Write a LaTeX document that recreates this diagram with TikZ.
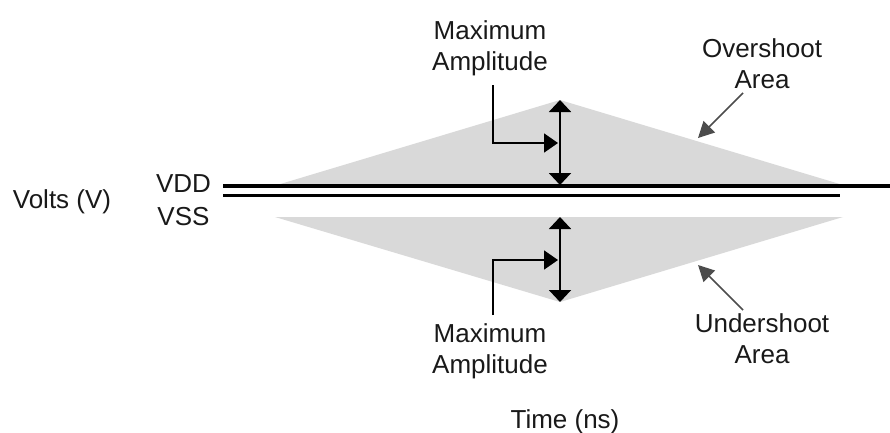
\documentclass[tikz,border=0pt]{standalone}
\usepackage{fontspec}
\setmainfont{Liberation Sans}
\usepackage{tikz}
\usetikzlibrary{arrows.meta}

\tikzset{
  lbl/.style={font=\fontsize{26}{31}\selectfont, text=black!90, inner sep=0pt, align=center},
  rail/.style={line width=3.2pt},
  area/.style={fill=gray!30},
  amp/.style={line width=2pt, {Triangle[width=22pt,length=12pt]}-{Triangle[width=22pt,length=12pt]}},
  lead/.style={line width=1.8pt, -{Triangle[width=19pt,length=14pt]}},
  pointer/.style={line width=1.6pt, draw=black!70, -{Triangle[width=16pt,length=16pt]}}
}

\begin{document}
\begin{tikzpicture}[x=1pt,y=-1pt]
  \useasboundingbox (0,0) rectangle (890,432);

  % overshoot and undershoot areas
  \coordinate (ovL) at (277,185);
  \coordinate (ovT) at (560,100);
  \coordinate (ovR) at (843,185);
  \coordinate (unL) at (275,217);
  \coordinate (unR) at (843,217);
  \coordinate (unB) at (560,302);
  \fill[area] (ovL) -- (ovT) -- (ovR) -- cycle;
  \fill[area] (unL) -- (unR) -- (unB) -- cycle;

  % VDD / VSS rails
  \coordinate (vddA) at (223,186);
  \coordinate (vddB) at (890,186);
  \coordinate (vssA) at (223,195.5);
  \coordinate (vssB) at (840,195.5);
  \draw[rail] (vddA) -- (vddB);
  \draw[rail] (vssA) -- (vssB);

  % amplitudes
  \coordinate (ovBase) at (560,185);
  \coordinate (unTop) at (560,217);
  \draw[amp] (ovT) -- (ovBase);
  \draw[amp] (unTop) -- (unB);

  \node[lbl] (maxTop) at (490,48) {Maximum\\Amplitude};
  \node[lbl] (maxBot) at (490,351.5) {Maximum\\Amplitude};
  \node[lbl] (ovLbl) at (762,64) {Overshoot\\Area};
  \node[lbl] (unLbl) at (762,339) {Undershoot\\Area};
  \node[lbl, anchor=base] (volts) at (62,208) {Volts (V)};
  \node[lbl, anchor=base] (vdd) at (183.5,192) {VDD};
  \node[lbl, anchor=base] (vss) at (183.5,225) {VSS};
  \node[lbl, anchor=base] (time) at (565,428) {Time (ns)};

  % leaders
  \coordinate (ldTop) at (493,85);
  \coordinate (tipTop) at (558,143);
  \coordinate (ldBot) at (493,315);
  \coordinate (tipBot) at (558,260);
  \draw[lead] (ldTop) |- (tipTop);
  \draw[lead] (ldBot) |- (tipBot);

  \coordinate (ovFrom) at (743,93);
  \coordinate (ovTo) at (698,138);
  \coordinate (unFrom) at (743,310);
  \coordinate (unTo) at (698,265);
  \draw[pointer] (ovFrom) -- (ovTo);
  \draw[pointer] (unFrom) -- (unTo);

\end{tikzpicture}
\end{document}
